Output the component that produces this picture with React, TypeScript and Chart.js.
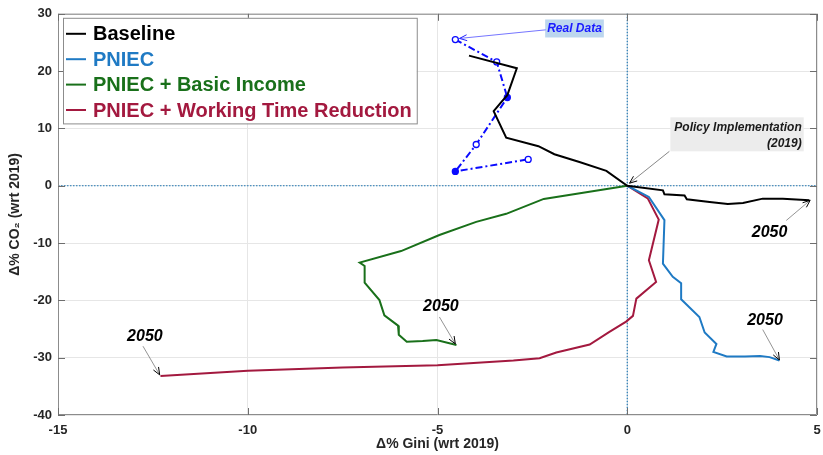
import React, { useEffect, useRef } from "react";
import { Chart, registerables } from "chart.js";

Chart.register(...registerables);

const FONT = '"Liberation Sans", Arial, Helvetica, sans-serif';

// ---- axis ticks ----
const xTicks = [-15, -10, -5, 0, 5];
const yTicks = [-40, -30, -20, -10, 0, 10, 20, 30];

// ---- series names ----
const seriesNames = ["Baseline", "PNIEC", "PNIEC + Basic Income", "PNIEC + Working Time Reduction"];
const realDataName = "Real Data";

// ---- series values (Δ% Gini, Δ% CO2) ----
const baselineGini = [-4.17, -2.91, -3.16, -3.32, -3.52, -3.19, -2.34, -1.92, -1.26, -0.55, 0, 0.94, 0.98, 1.51, 1.57, 2.17, 2.65, 3.05, 3.57, 4.1, 4.8];
const baselineCO2 = [22.7, 20.5, 15.8, 14.6, 13.0, 8.4, 6.9, 5.5, 4.15, 2.6, 0, -0.8, -1.5, -1.7, -2.35, -2.82, -3.2, -3.0, -2.25, -2.25, -2.55];

const pniecGini = [0, 0.57, 0.98, 0.94, 1.2, 1.42, 1.42, 1.9, 2.04, 2.35, 2.27, 2.62, 3.1, 3.5, 3.75, 4.01];
const pniecCO2 = [0, -1.95, -6.0, -13.6, -15.9, -17.0, -19.8, -22.9, -25.6, -27.6, -29.0, -29.8, -29.8, -29.7, -29.9, -30.5];

const basicIncomeGini = [0, -2.2, -3.19, -3.98, -4.95, -5.96, -7.05, -6.92, -6.92, -6.53, -6.4, -6.04, -6.02, -5.81, -5.39, -5.03, -4.5];
const basicIncomeCO2 = [0, -2.3, -4.9, -6.3, -8.6, -11.4, -13.4, -14.0, -16.9, -19.95, -22.6, -24.4, -26.0, -27.2, -27.1, -26.9, -27.8];

const wtrGini = [0, 0.54, 0.83, 0.57, 0.76, 0.24, 0.15, -0.03, -0.47, -0.99, -1.87, -2.31, -3.0, -5.0, -7.5, -10, -12.3];
const wtrCO2 = [0, -2.2, -5.9, -13.0, -16.8, -19.7, -22.7, -23.7, -25.5, -27.7, -29.1, -30.1, -30.5, -31.3, -31.7, -32.3, -33.2];

const realGini = [-4.53, -3.44, -3.16, -3.98, -4.53, -2.61];
const realCO2 = [25.5, 21.6, 15.4, 7.2, 2.5, 4.6];

// ---- annotation texts & anchors (data coordinates) ----
const label2050 = "2050";
const endLabels = [
  { text: [-12.71, -26.3], from: [-12.76, -28.0], to: [-12.32, -33.0] },
  { text: [-4.91, -21.05], from: [-4.95, -22.9], to: [-4.53, -27.6] },
  { text: [3.63, -23.5], from: [3.57, -25.1], to: [4.01, -30.4] },
  { text: [3.75, -8.1], from: [4.19, -6.06], to: [4.82, -2.53] },
];
const policyText = ["Policy Implementation", "(2019)"];
const policyAnchor = { boxTopRight: [4.65, 11.94], from: [1.11, 6.0], to: [0.06, 0.44] };
const realDataAnchor = { center: [-1.39, 27.44], from: [-2.15, 27.2], to: [-4.42, 25.7] };

const colors = ["#000000", "#1f7ac4", "#19701a", "#a3193f"];
const legendTextColors = ["#000000", "#1f7ac4", "#19701a", "#a3193f"];

function pts(xs: number[], ys: number[]) {
  return xs.map((x, i) => ({ x, y: ys[i] }));
}

function drawArrow(ctx: CanvasRenderingContext2D, x1: number, y1: number, x2: number, y2: number, lineColor: string, headColor: string, lw: number) {
  ctx.save();
  ctx.strokeStyle = lineColor;
  ctx.lineWidth = lw;
  ctx.beginPath();
  ctx.moveTo(x1, y1);
  ctx.lineTo(x2, y2);
  ctx.stroke();
  const ang = Math.atan2(y2 - y1, x2 - x1);
  const len = 8;
  const spread = 0.38;
  ctx.strokeStyle = headColor;
  ctx.lineWidth = 1;
  ctx.beginPath();
  ctx.moveTo(x2 - len * Math.cos(ang - spread), y2 - len * Math.sin(ang - spread));
  ctx.lineTo(x2, y2);
  ctx.lineTo(x2 - len * Math.cos(ang + spread), y2 - len * Math.sin(ang + spread));
  ctx.stroke();
  ctx.restore();
}

const framePlugin = {
  id: "frameAndZero",
  beforeDatasetsDraw(chart: any) {
    const { ctx, chartArea: a, scales } = chart;
    const xs = scales.x, ys = scales.y;
    ctx.save();
    ctx.strokeStyle = "#1f77b4";
    ctx.lineWidth = 1.2;
    ctx.setLineDash([1.5, 1.5]);
    const x0 = xs.getPixelForValue(0);
    const y0 = ys.getPixelForValue(0);
    ctx.beginPath();
    ctx.moveTo(x0, a.top);
    ctx.lineTo(x0, a.bottom);
    ctx.moveTo(a.left, y0);
    ctx.lineTo(a.right, y0);
    ctx.stroke();
    ctx.restore();
  },
  afterDatasetsDraw(chart: any) {
    const { ctx, chartArea: a, scales } = chart;
    const xs = scales.x, ys = scales.y;
    ctx.save();
    ctx.strokeStyle = "#8c8c8c";
    ctx.lineWidth = 1;
    ctx.beginPath();
    ctx.rect(a.left + 0.5, a.top + 0.5, a.right - a.left - 1, a.bottom - a.top - 1);
    ctx.stroke();
    const tl = 7;
    ctx.strokeStyle = "#6e6e6e";
    ctx.beginPath();
    xTicks.forEach((t) => {
      const px = Math.round(xs.getPixelForValue(t)) + 0.5;
      ctx.moveTo(px, a.bottom);
      ctx.lineTo(px, a.bottom - tl);
      ctx.moveTo(px, a.top);
      ctx.lineTo(px, a.top + tl);
    });
    yTicks.forEach((t) => {
      const py = Math.round(ys.getPixelForValue(t)) + 0.5;
      ctx.moveTo(a.left, py);
      ctx.lineTo(a.left + tl, py);
      ctx.moveTo(a.right, py);
      ctx.lineTo(a.right - tl, py);
    });
    ctx.stroke();
    ctx.restore();
  },
};

const annotationPlugin = {
  id: "annotations",
  afterDatasetsDraw(chart: any) {
    const { ctx, scales } = chart;
    const X = (v: number) => scales.x.getPixelForValue(v);
    const Y = (v: number) => scales.y.getPixelForValue(v);
    ctx.save();
    endLabels.forEach((l) => {
      drawArrow(ctx, X(l.from[0]), Y(l.from[1]), X(l.to[0]), Y(l.to[1]), "#666666", "#000000", 0.7);
      ctx.font = `italic bold 16px ${FONT}`;
      ctx.fillStyle = "#000000";
      ctx.textAlign = "center";
      ctx.textBaseline = "middle";
      ctx.fillText(label2050, X(l.text[0]), Y(l.text[1]));
    });
    {
      const rx = X(policyAnchor.boxTopRight[0]);
      const ty = Y(policyAnchor.boxTopRight[1]);
      ctx.font = `italic bold 12px ${FONT}`;
      const w = ctx.measureText(policyText[0]).width + 6;
      ctx.fillStyle = "#ececec";
      ctx.fillRect(rx - w, ty, w, 34);
      ctx.fillStyle = "#1a1a1a";
      ctx.textAlign = "right";
      ctx.textBaseline = "middle";
      ctx.fillText(policyText[0], rx - 2, ty + 10);
      ctx.fillText(policyText[1], rx - 2, ty + 26);
      drawArrow(ctx, X(policyAnchor.from[0]), Y(policyAnchor.from[1]), X(policyAnchor.to[0]), Y(policyAnchor.to[1]), "#555555", "#000000", 0.7);
    }
    {
      const cx = X(realDataAnchor.center[0]);
      const cy = Y(realDataAnchor.center[1]);
      ctx.font = `italic bold 12px ${FONT}`;
      const w = ctx.measureText(realDataName).width + 4;
      ctx.fillStyle = "#bcd6ee";
      ctx.fillRect(cx - w / 2, cy - 9, w, 18);
      ctx.fillStyle = "#1a1aff";
      ctx.textAlign = "center";
      ctx.textBaseline = "middle";
      ctx.fillText(realDataName, cx, cy + 0.5);
      drawArrow(ctx, X(realDataAnchor.from[0]), Y(realDataAnchor.from[1]), X(realDataAnchor.to[0]), Y(realDataAnchor.to[1]), "#3a3aff", "#2020ff", 0.7);
    }
    ctx.restore();
  },
};

const legendPlugin = {
  id: "boxLegend",
  afterDraw(chart: any) {
    const { ctx, chartArea: a } = chart;
    const left = a.left + 5;
    const top = a.top + 4;
    const rowH = 25.4;
    ctx.save();
    ctx.font = `bold 20px ${FONT}`;
    let maxW = 0;
    seriesNames.forEach((n) => (maxW = Math.max(maxW, ctx.measureText(n).width)));
    const width = 30 + maxW + 5;
    const height = rowH * seriesNames.length + 4;
    ctx.fillStyle = "#ffffff";
    ctx.fillRect(left, top, width, height);
    ctx.strokeStyle = "#8c8c8c";
    ctx.lineWidth = 1;
    ctx.strokeRect(left + 0.5, top + 0.5, width, height);
    seriesNames.forEach((n, i) => {
      const cy = top + 16 + i * rowH;
      ctx.strokeStyle = colors[i];
      ctx.lineWidth = 2;
      ctx.beginPath();
      ctx.moveTo(left + 3, cy);
      ctx.lineTo(left + 23, cy);
      ctx.stroke();
      ctx.fillStyle = legendTextColors[i];
      ctx.textAlign = "left";
      ctx.textBaseline = "middle";
      ctx.fillText(n, left + 30, cy + 1);
    });
    ctx.restore();
  },
};

export default function App() {
  const canvasRef = useRef<HTMLCanvasElement | null>(null);

  useEffect(() => {
    if (!canvasRef.current) return;
    const seriesX = [baselineGini, pniecGini, basicIncomeGini, wtrGini];
    const seriesY = [baselineCO2, pniecCO2, basicIncomeCO2, wtrCO2];
    const datasets: any[] = seriesNames.map((name, i) => ({
      label: name,
      data: pts(seriesX[i], seriesY[i]),
      showLine: true,
      borderColor: colors[i],
      backgroundColor: colors[i],
      borderWidth: 2,
      pointRadius: 0,
      tension: 0,
    }));
    datasets.push({
      label: realDataName,
      data: pts(realGini, realCO2),
      showLine: true,
      borderColor: "#0a0aff",
      borderWidth: 2,
      borderDash: [7, 3, 2, 3],
      pointRadius: 3,
      pointBorderWidth: 1.3,
      pointBorderColor: "#0a0aff",
      pointBackgroundColor: ["#ffffff", "#ffffff", "#0a0aff", "#ffffff", "#0a0aff", "#ffffff"],
    });

    const chart = new Chart(canvasRef.current, {
      type: "scatter",
      data: { datasets },
      options: {
        animation: false,
        responsive: true,
        maintainAspectRatio: false,
        layout: { padding: { top: 13, right: 0, left: 0, bottom: 0 } },
        plugins: { legend: { display: false }, tooltip: { enabled: false } },
        scales: {
          x: {
            type: "linear",
            min: -15,
            max: 5,
            afterBuildTicks: (s: any) => { s.ticks = xTicks.map((v) => ({ value: v })); },
            afterFit: (s: any) => { s.height = 40; s.paddingRight = 6; s.paddingLeft = 0; },
            ticks: { font: { family: FONT, size: 13, weight: "bold" }, color: "#262626", padding: 8 },
            grid: { color: "#e6e6e6", drawTicks: false },
            border: { display: false },
            title: {
              display: true,
              text: "Δ% Gini (wrt 2019)",
              font: { family: FONT, size: 14, weight: "bold" },
              color: "#262626",
              padding: { top: 0, bottom: 2 },
            },
          },
          y: {
            type: "linear",
            min: -40,
            max: 30,
            afterBuildTicks: (s: any) => { s.ticks = yTicks.map((v) => ({ value: v })); },
            afterFit: (s: any) => { s.width = 58; },
            ticks: { font: { family: FONT, size: 13, weight: "bold" }, color: "#262626", padding: 6 },
            grid: { color: "#e6e6e6", drawTicks: false },
            border: { display: false },
            title: {
              display: true,
              text: "Δ% CO₂ (wrt 2019)",
              font: { family: FONT, size: 14, weight: "bold" },
              color: "#262626",
              padding: { top: 7, bottom: 0 },
            },
          },
        },
      } as any,
      plugins: [framePlugin, annotationPlugin, legendPlugin],
    });
    return () => chart.destroy();
  }, []);

  return (
    <div style={{ position: "fixed", left: 0, top: 0, width: 823, height: 455, background: "#ffffff" }}>
      <canvas ref={canvasRef} />
    </div>
  );
}
